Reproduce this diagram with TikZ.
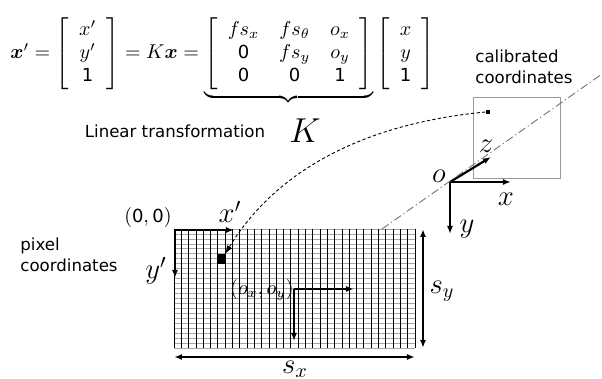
\documentclass[tikz,border=0pt]{standalone}
\usepackage{amsmath,amssymb,bm}
\usepackage{fontspec}
\setsansfont{DejaVu Sans}
\usetikzlibrary{arrows.meta}
\newcommand{\nsf}[1]{\text{\sffamily\fontsize{9}{9}\selectfont #1}}
\newcommand{\vecthree}[3]{\left[\begin{array}{c} #1 \\ #2 \\ #3 \end{array}\right]}

\begin{document}
\begin{tikzpicture}[x=0.5pt,y=-0.5pt,>={Latex[length=4pt,width=3pt]},
    axis/.style={->,line width=1.1pt},
    span/.style={<->,line width=0.9pt},
    caption/.style={font=\sffamily\fontsize{8.3}{10.5}\selectfont,align=left,inner sep=0pt},
    lbl/.style={inner sep=0pt,font=\Large}]
  \useasboundingbox (0,0) rectangle (602,379);

  % camera model
  \node[anchor=base west,inner sep=0pt] (eq) at (10,59)
    {$\renewcommand{\arraystretch}{0.95}\bm{x}' = \vecthree{x'}{y'}{\nsf{1}} = K\bm{x} =
      \underbrace{\left[\begin{array}{ccc} fs_x & fs_\theta & o_x \\ \nsf{0} & fs_y & o_y \\
      \nsf{0} & \nsf{0} & \nsf{1} \end{array}\right]}_{}
      \vecthree{x}{y}{\nsf{1}}$};
  \node[caption] (lin) at (175,131) {Linear transformation};
  \node[inner sep=0pt,font=\LARGE] (K) at (305,131) {$K$};

  % pixel grid
  \foreach \j in {0,...,24}
    \draw[gray!70,line width=0.35pt] (174,229+4.96*\j) -- (415,229+4.96*\j);
  \foreach \i in {0,...,33}
    \draw[line width=0.4pt] (174+7.303*\i,229) -- (174+7.303*\i,348);
  \node[caption] (pix) at (20,255) [anchor=west] {pixel\\coordinates};

  \coordinate (p0) at (175,230);
  \coordinate (pxe) at (234,230);
  \coordinate (pye) at (175,278);
  \draw[axis] (p0) -- (pxe);
  \draw[axis] (p0) -- (pye);
  \node[inner sep=0pt,anchor=east] (zero) at (172,218) {$(\nsf{0},\nsf{0})$};
  \node[lbl] (xlab) at (230,212) {$x'$};
  \node[lbl] (ylab) at (156,271) {$y'$};
  \node[fill=black,minimum width=3.5pt,minimum height=5pt,inner sep=0pt] (px) at (221.5,259) {};

  \coordinate (c0) at (294,289);
  \coordinate (cxe) at (354,289);
  \coordinate (cye) at (294,341);
  \draw[axis,line width=0.9pt] (c0) -- (cxe);
  \draw[axis,line width=0.9pt] (c0) -- (cye);
  \node[inner sep=0pt] (cen) at (262,290) {$(o_x,o_y)$};

  \coordinate (sy0) at (423,229);
  \coordinate (sy1) at (423,348);
  \coordinate (sx0) at (174,357);
  \coordinate (sx1) at (415,357);
  \draw[span] (sy0) -- (sy1);
  \draw[span] (sx0) -- (sx1);
  \node[lbl] (sylab) at (442,291) {$s_y$};
  \node[lbl] (sxlab) at (295,369.5) {$s_x$};

  % calibrated frame
  \node[draw=gray!80,line width=0.5pt,minimum width=43.5pt,minimum height=40.5pt,inner sep=0pt] (cal) at (517.5,138.5) {};
  \node[caption] (calt) at (475,67) [anchor=west] {calibrated\\coordinates};
  \node[fill=black,minimum size=2.2pt,inner sep=0pt] (pt) at (488,112) {};

  \coordinate (o) at (450,182);
  \coordinate (xe) at (511,182);
  \coordinate (ye) at (450,234);
  \coordinate (ze) at (491,157);
  \draw[axis] (o) -- (xe);
  \draw[axis] (o) -- (ye);
  \draw[axis] (o) -- (ze);
  \node[lbl] (olab) at (439,176) {$o$};
  \node[lbl] (xcl) at (506,199) {$x$};
  \node[lbl] (ycl) at (467,229) {$y$};
  \node[lbl] (zcl) at (486,146) {$z$};

  % projection
  \coordinate (ray0) at (382,229);
  \coordinate (ray1) at (602,74);
  \draw[gray!90!black,line width=0.45pt,dash pattern=on 4pt off 1.5pt on 0.6pt off 1.5pt] (ray0) -- (ray1);
  \draw[->,line width=0.45pt,dash pattern=on 1.6pt off 1.2pt] (pt.west) .. controls (350,125) and (270,180) .. (px.north east);
\end{tikzpicture}
\end{document}
